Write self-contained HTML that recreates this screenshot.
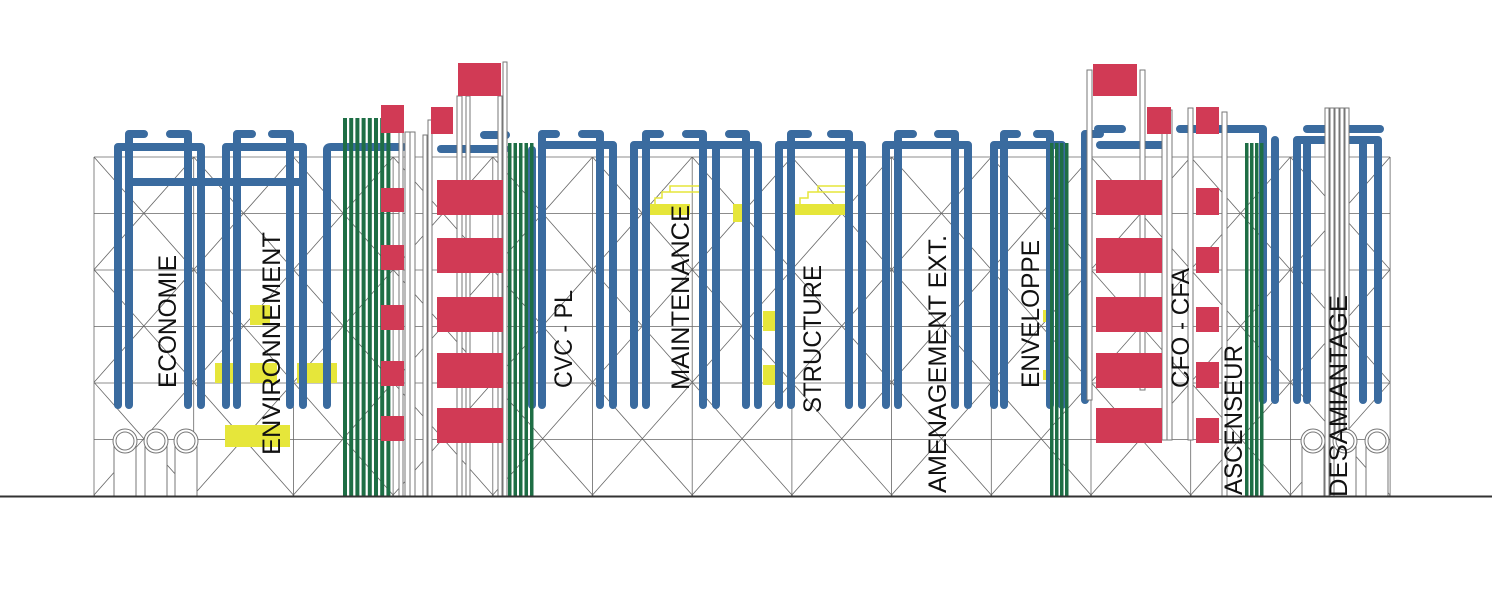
<!DOCTYPE html>
<html><head><meta charset="utf-8"><style>
html,body{margin:0;padding:0;background:#fff;width:1500px;height:600px;overflow:hidden}
svg{display:block}
text{font-family:"Liberation Sans",Arial,sans-serif;font-size:25px;fill:#111}
</style></head><body>
<svg id="s" width="1500" height="600" viewBox="0 0 1500 600" xmlns="http://www.w3.org/2000/svg">
<defs><clipPath id="gc"><rect x="94" y="157" width="1296" height="339"/></clipPath></defs>
<g id="grid" stroke="#666" stroke-width="0.8" fill="none"></g>
<g id="yel" fill="#e6e63a"></g>
<g id="blue" stroke="#3a6b9f" stroke-width="8" fill="none" stroke-linecap="round" stroke-linejoin="round"></g>
<g id="tube" fill="#fff" stroke="#777" stroke-width="1"></g>
<g id="green" fill="#1e6e45"></g>
<g id="red" fill="#d13a55"></g>
<g id="circ" fill="#fff" stroke="#777" stroke-width="1"></g>
<line x1="0" y1="496.5" x2="1492" y2="496.5" stroke="#333" stroke-width="2"/>
<g id="lbl"></g>
</svg>
<script>
const NS="http://www.w3.org/2000/svg";
function el(g,tag,a,txt){const e=document.createElementNS(NS,tag);for(const k in a)e.setAttribute(k,a[k]);if(txt)e.textContent=txt;document.getElementById(g).appendChild(e);return e;}
for(let i=0;i<=6;i++){const y=157+i*56.5;el('grid','line',{x1:94,y1:y,x2:1390,y2:y});}
for(let k=0;k<=13;k++){const x=94+k*99.7;el('grid','line',{x1:x,y1:157,x2:x,y2:496});}
const dg=el('grid','g',{'clip-path':'url(#gc)'});
for(let k=-4;k<=17;k++){const x=94+k*99.7;const dx=339/1.13;
 let a=document.createElementNS(NS,'line');a.setAttribute('x1',x);a.setAttribute('y1',157);a.setAttribute('x2',x+dx);a.setAttribute('y2',496);dg.appendChild(a);
 let b=document.createElementNS(NS,'line');b.setAttribute('x1',x);b.setAttribute('y1',157);b.setAttribute('x2',x-dx);b.setAttribute('y2',496);dg.appendChild(b);}
[[250,305,20,20],[215,363,22,20],[250,363,27,20],[297,363,40,20],[225,425,65,22],
[650,204,40,11],[733,204,9,18],[763,311,14,20],[763,365,14,20],[795,204,50,11],[1043,310,7,12],[1043,370,7,10]]
.forEach(r=>el('yel','rect',{x:r[0],y:r[1],width:r[2],height:r[3]}));
el('yel','path',{d:"M655 204 V198 H662 V192 H670 V186 H700 M670 192 H700 M800 204 V198 H808 V192 H818 V186 H845 M818 192 H845",stroke:"#e6e63a","stroke-width":1.5,fill:"none"});
function P(d){el('blue','path',{d});}
function mod(xs,bot,top,dashes){P(`M${xs[0]} ${bot} V${top} H${xs[xs.length-1]} V${bot}`);for(let i=1;i<xs.length-1;i++)P(`M${xs[i]} ${top} V${bot}`);(dashes||[]).forEach(d=>P(d));}
mod([118,129,188,201],405,147,["M129 147 V134 H144","M170 134 H188 V147"]);
P("M129 182 H303");
mod([226,237,290,303],405,147,["M237 147 V134 H252","M272 134 H290 V147"]);
P("M327 405 V150 Q327 147 331 147 H403");
P("M441 149 H505");P("M484 135 H506");
mod([542,600,613],405,145,["M542 145 V134 H556","M582 134 H600 V145"]);P("M532 405 V150");
mod([634,646,703,716,746,758],405,145,["M646 145 V134 H660","M686 134 H703 V145","M729 134 H746 V145"]);
mod([779,791,849,862],405,145,["M791 145 V134 H808","M831 134 H849 V145"]);
mod([886,898,955,968],405,145,["M898 145 V134 H913","M938 134 H955 V145"]);
mod([994,1004,1050,1062],405,145,["M1004 145 V134 H1017","M1037 134 H1050 V145"]);
P("M1085 400 V134 H1100");P("M1100 145 H1165");P("M1122 129 H1098");
P("M1180 129 H1263 V400");P("M1275 140 V400");
mod([1297,1307,1363,1378],400,140,["M1307 129 H1380"]);
function gb(x0,n,top,w,gap){for(let i=0;i<n;i++)el('green','rect',{x:x0+i*(w+gap),y:top,width:w,height:496-top});}
gb(343,8,118,4,2.2);gb(508,5,143,3.5,2);gb(1050,4,143,3.5,1.5);gb(1245,4,143,3.5,1.5);
[[399,132,4],[405,132,5],[410,132,5],[423,135,4],[428,120,4],[457,96,5],[466,96,4],[503,62,4],[498,96,4],
[1087,70,5,400],[1140,70,5,390],[1162,110,5,440],[1167,110,5,440],[1188,108,5,440],[1222,112,5],
[1325,108,4],[1330,108,4],[1335,108,4],[1340,108,4],[1345,108,4]]
.forEach(t=>el('tube','rect',{x:t[0],y:t[1],width:t[2],height:(t[3]||496)-t[1]}));
[[381,105,23,28],[431,107,22,27],[458,63,43,33],[1093,64,44,32],[1147,107,24,27],[1196,107,23,27]]
.forEach(r=>el('red','rect',{x:r[0],y:r[1],width:r[2],height:r[3]}));
[[188,212],[245,270],[305,330],[361,386],[416,441]].forEach(r=>el('red','rect',{x:381,y:r[0],width:23,height:r[1]-r[0]}));
[[180,215],[238,273],[297,332],[353,388],[408,443]].forEach(r=>{el('red','rect',{x:437,y:r[0],width:66,height:r[1]-r[0]});el('red','rect',{x:1096,y:r[0],width:66,height:r[1]-r[0]});});
[[188,215],[247,273],[307,332],[362,388],[418,443]].forEach(r=>el('red','rect',{x:1196,y:r[0],width:23,height:r[1]-r[0]}));
[125,156,186,1313,1345,1377].forEach(cx=>{el('circ','rect',{x:cx-11,y:441,width:22,height:55});el('circ','circle',{cx,cy:441,r:12});el('circ','circle',{cx,cy:441,r:9});});
function L(t,x,y1,y2){el('lbl','text',{x:0,y:0,transform:`translate(${x+9},${y2}) rotate(-90)`,textLength:y2-y1,lengthAdjust:'spacingAndGlyphs'},t);}
L("ECONOMIE",167,255,388);L("ENVIRONNEMENT",271,232,455);L("CVC - PL",563,290,388);
L("MAINTENANCE",680,205,390);L("STRUCTURE",812,265,413);L("AMENAGEMENT EXT.",937,235,493);
L("ENVELOPPE",1030,240,388);L("CFO - CFA",1180,268,388);L("ASCENSEUR",1233,345,495);L("DESAMIANTAGE",1338,295,497);
</script>
</body></html>
